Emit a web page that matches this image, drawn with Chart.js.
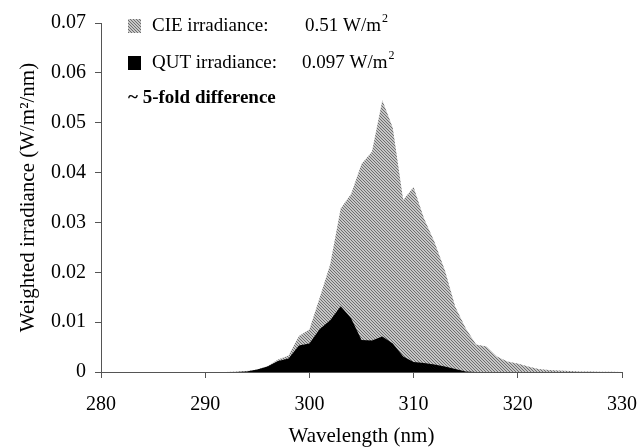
<!DOCTYPE html>
<html>
<head>
<meta charset="utf-8">
<script src="https://cdn.jsdelivr.net/npm/chart.js@4.4.1/dist/chart.umd.min.js"></script>
<style>
  html, body { margin: 0; padding: 0; background: #fff; }
  canvas { display: block; }
</style>
</head>
<body>
<canvas id="uvchart" width="640" height="448"></canvas>
<script>
// wavelength (nm), 1 nm steps
const wavelengths = [280,281,282,283,284,285,286,287,288,289,290,291,292,293,294,295,296,297,298,299,
  300,301,302,303,304,305,306,307,308,309,310,311,312,313,314,315,316,317,318,319,
  320,321,322,323,324,325,326,327,328,329,330];

// weighted irradiance (W/m2/nm)
const cieIrr = [0,0,0,0,0,0,0,0,0,0,0,0,0,0.0001,0.0002,0.0005,0.0012,0.0025,0.0033,0.0072,
  0.0085,0.015,0.0216,0.0328,0.0357,0.0417,0.0442,0.0545,0.049,0.0345,0.0371,0.0308,0.0261,0.0204,0.0131,0.0088,0.0055,0.0051,0.0031,0.0021,
  0.0017,0.0011,0.0006,0.0004,0.0003,0.0002,0.0001,0.0001,0.00005,0.00003,0.00002];

const qutIrr = [0,0,0,0,0,0,0,0,0,0,0,0,0,0,0.0001,0.0005,0.0011,0.0022,0.0027,0.0053,
  0.0057,0.0086,0.0104,0.0132,0.0108,0.0064,0.0063,0.0071,0.0057,0.0031,0.002,0.0018,0.0015,0.0011,0.0006,0.0001,0,0,0,0,
  0,0,0,0,0,0,0,0,0,0,0];

const legendRows = [
  {label: "CIE irradiance:", value: "0.51 W/m", sup: "2"},
  {label: "QUT irradiance:", value: "0.097 W/m", sup: "2"}
];
const noteText = "~ 5-fold difference";

const serif = "'Liberation Serif', 'Times New Roman', serif";

const canvas = document.getElementById("uvchart");
const ctx = canvas.getContext("2d");

// diagonal hatch for the CIE area
function makeHatch() {
  const p = document.createElement("canvas");
  p.width = 3; p.height = 3;
  const pc = p.getContext("2d");
  pc.fillStyle = "#c6c6c6";
  pc.fillRect(0, 0, 3, 3);
  pc.fillStyle = "#6e6e6e";
  for (let y = 0; y < 3; y++) {
    for (let x = 0; x < 3; x++) {
      if (((x - y) % 3 + 3) % 3 === 0) pc.fillRect(x, y, 1, 1);
    }
  }
  return ctx.createPattern(p, "repeat");
}
const hatch = makeHatch();

function toPoints(vals) {
  return wavelengths.map((w, i) => ({x: w, y: vals[i]}));
}

const legendPlugin = {
  id: "irrLegend",
  afterDraw(chart) {
    const c = chart.ctx;
    c.save();
    const swatches = [hatch, "#000"];
    const rowsY = [26, 63];
    c.textBaseline = "middle";
    c.textAlign = "left";
    legendRows.forEach((row, i) => {
      const cy = rowsY[i];
      c.fillStyle = swatches[i];
      c.fillRect(128, cy - 7, 13, 14);
      c.fillStyle = "#000";
      c.font = "19px " + serif;
      c.fillText(row.label, 152, cy);
      const vx = i === 0 ? 305 : 302;
      c.fillText(row.value, vx, cy);
      const w = c.measureText(row.value).width;
      c.font = "12px " + serif;
      c.fillText(row.sup, vx + w + 1, cy - 7);
    });
    c.font = "bold 19px " + serif;
    c.fillStyle = "#000";
    c.fillText(noteText, 128, 98);
    c.restore();
  }
};

new Chart(canvas, {
  type: "line",
  data: {
    datasets: [{
      label: "QUT irradiance",
      data: toPoints(qutIrr),
      backgroundColor: "#000",
      borderColor: "#000",
      borderWidth: 0,
      fill: "origin",
      pointRadius: 0,
      tension: 0
    }, {
      label: "CIE irradiance",
      data: toPoints(cieIrr),
      backgroundColor: hatch,
      borderColor: "#9a9a9a",
      borderWidth: 0,
      fill: "origin",
      pointRadius: 0,
      tension: 0
    }]
  },
  options: {
    responsive: false,
    animation: false,
    layout: {padding: {top: 23, right: 18, left: 0, bottom: 0}},
    plugins: {
      legend: {display: false},
      tooltip: {enabled: false}
    },
    scales: {
      x: {
        type: "linear",
        min: 280,
        max: 330,
        afterFit(scale) {
          scale.height = 76;
          scale.paddingLeft = 0;
          scale.paddingRight = 0;
        },
        ticks: {
          stepSize: 10,
          color: "#000",
          padding: 15,
          maxRotation: 0,
          font: {family: serif, size: 20}
        },
        grid: {drawOnChartArea: false, drawTicks: true, tickLength: 6, color: "#555"},
        border: {display: true, color: "#555", width: 1},
        title: {
          display: true,
          text: "Wavelength (nm)",
          color: "#000",
          font: {family: serif, size: 21, lineHeight: 1.05},
          padding: {top: 0, bottom: 0}
        }
      },
      y: {
        min: 0,
        max: 0.07,
        afterFit(scale) { scale.width = 101; },
        ticks: {
          stepSize: 0.01,
          color: "#000",
          padding: 9,
          font: {family: serif, size: 20},
          callback: v => v === 0 ? "0" : v.toFixed(2)
        },
        grid: {drawOnChartArea: false, drawTicks: true, tickLength: 6, color: "#555"},
        border: {display: true, color: "#555", width: 1},
        title: {
          display: true,
          text: "Weighted irradiance (W/m\u00B2/nm)",
          color: "#000",
          font: {family: serif, size: 21},
          padding: {top: 16, bottom: 0}
        }
      }
    }
  },
  plugins: [legendPlugin]
});
</script>
</body>
</html>
